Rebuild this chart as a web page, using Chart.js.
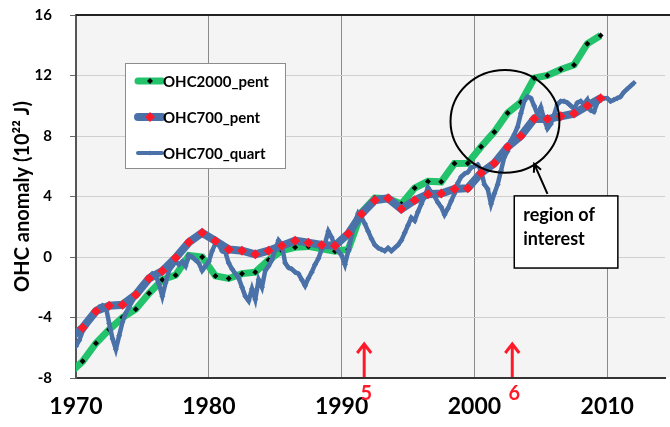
<!DOCTYPE html>
<html>
<head>
<meta charset="utf-8">
<script src="https://cdn.jsdelivr.net/npm/chart.js@4.4.1/dist/chart.umd.min.js"></script>
<style>
  html, body { margin: 0; padding: 0; background: #fff; }
  #wrap { width: 670px; height: 427px; }
</style>
</head>
<body>
<div id="wrap"><canvas id="ohcChart" width="670" height="427"></canvas></div>
<script>
// pentadal values, centred on mid-year (1969.5 .. 2009.5)
const pentYears = [1969.5, 1970.5, 1971.5, 1972.5, 1973.5, 1974.5, 1975.5, 1976.5, 1977.5, 1978.5,
  1979.5, 1980.5, 1981.5, 1982.5, 1983.5, 1984.5, 1985.5, 1986.5, 1987.5, 1988.5,
  1989.5, 1990.5, 1991.5, 1992.5, 1993.5, 1994.5, 1995.5, 1996.5, 1997.5, 1998.5,
  1999.5, 2000.5, 2001.5, 2002.5, 2003.5, 2004.5, 2005.5, 2006.5, 2007.5, 2008.5, 2009.5];
const ohc2000Pent = [-7.7, -6.9, -5.7, -4.8, -4.0, -3.45, -2.4, -1.5, -1.2, 0.1,
  0.0, -1.25, -1.42, -1.1, -1.0, -0.2, 0.42, 0.64, 0.7, 0.55,
  0.38, 0.5, 2.95, 3.9, 3.85, 3.5, 4.56, 5.0, 4.97, 6.19,
  6.2, 7.29, 8.27, 9.52, 10.23, 11.83, 12.0, 12.4, 12.7, 14.1, 14.64];
const ohc700Pent = [-5.4, -4.68, -3.58, -3.22, -3.16, -2.5, -1.42, -0.93, -0.05, 0.97,
  1.6, 1.06, 0.5, 0.42, 0.18, 0.42, 0.75, 1.08, 0.95, 0.8,
  0.75, 1.54, 2.85, 3.75, 3.88, 3.17, 3.75, 4.15, 4.2, 4.5,
  4.55, 5.56, 6.2, 7.28, 8.0, 9.14, 9.12, 9.3, 9.48, 10.0, 10.5];

// quarterly values, 1970.00 .. 2012.00, one row per year
const quartStart = 1970;
const ohc700Quart = [
  -5.9, -5.5, -4.9, -4.6,
  -4.2, -3.8, -3.5, -3.3,
  -3.2, -3.3, -4.4, -5.4,
  -6.1, -5.2, -4.3, -3.7,
  -3.3, -2.9, -2.5, -2.1,
  -1.8, -1.6, -1.3, -1.1,
  -1.2, -1.8, -2.6, -1.7,
  -0.9, -0.6, -0.3, -0.5,
  -0.3, -0.6, 0.1, 0.0,
  -0.2, -0.4, -0.9, -0.6,
  -0.3, 0.4, 0.9, 0.8,
  0.4, 0.3, -0.4, -0.8,
  -1.1, -1.4, -2.0, -2.6,
  -2.9, -2.1, -2.8, -1.5,
  -2.0, -0.9, -0.6, -0.2,
  0.5, 1.1, 0.8, -0.4,
  -0.7, -0.8, -1.0, -1.1,
  -1.5, -1.9, -1.4, -1.0,
  -0.5, -0.1, 0.5, 0.9,
  1.7, 1.3, 0.7, 0.4,
  0.1, -0.5, 0.4, 1.4,
  2.3, 2.9, 2.6, 2.2,
  1.7, 1.2, 0.8, 0.6,
  0.5, 0.4, 0.6, 0.4,
  0.6, 0.8, 1.1, 1.6,
  2.1, 2.6, 2.4, 3.0,
  3.5, 4.0, 4.6, 4.3,
  4.0, 3.6, 3.3, 2.8,
  3.2, 3.7, 4.2, 4.9,
  5.3, 5.5, 5.6, 5.9,
  6.0, 6.1, 5.7, 4.8,
  4.5, 3.5, 4.2, 4.8,
  5.7, 6.6, 7.0, 7.7,
  8.1, 8.6, 9.5, 10.3,
  10.6, 10.5, 10.0, 9.4,
  9.9, 9.1, 8.5, 8.8,
  9.4, 10.1, 10.3, 10.3,
  10.2, 10.0, 9.8, 10.2,
  10.3, 10.1, 10.4, 9.7,
  9.6, 10.2, 10.4, 10.5,
  10.5, 10.3, 10.4, 10.5,
  10.6, 10.9, 11.1, 11.3,
  11.5
];

const xTicks = [1970, 1980, 1990, 2000, 2010];
const yTicks = [-8, -4, 0, 4, 8, 12, 16];
const eventYears = [1991.7, 2002.85];
const eventLabels = ['5', '6'];

const GREEN = '#23c36c';
const BLUE = '#4a72a8';
const RED = '#ff1a2a';
const FONT = 'Lato, "DejaVu Sans", sans-serif';

const toXY = (xs, ys) => ys.map((v, i) => ({ x: xs[i], y: v }));
const quartYears = ohc700Quart.map((_, i) => quartStart + i / 4);

const legendItems = [
  { label: 'OHC2000_pent', line: GREEN, lw: 7, dot: '#000', r: 3 },
  { label: 'OHC700_pent', line: BLUE, lw: 8, dot: RED, r: 5 },
  { label: 'OHC700_quart', line: BLUE, lw: 4, dot: BLUE, r: 2.5 }
];

function diamond(ctx, cx, cy, r, color) {
  ctx.fillStyle = color;
  ctx.beginPath();
  ctx.moveTo(cx, cy - r);
  ctx.lineTo(cx + r, cy);
  ctx.lineTo(cx, cy + r);
  ctx.lineTo(cx - r, cy);
  ctx.closePath();
  ctx.fill();
}

// plot background
const backdrop = {
  id: 'backdrop',
  beforeDraw(chart) {
    const { ctx, chartArea: a } = chart;
    ctx.save();
    ctx.fillStyle = '#fff';
    ctx.fillRect(0, 0, chart.width, chart.height);
    ctx.fillStyle = '#f4f4f4';
    ctx.fillRect(a.left, a.top, chart.width - a.left, a.bottom - a.top);
    ctx.restore();
  }
};

// legend box, circle, callout and red arrows
const extras = {
  id: 'extras',
  afterDraw(chart) {
    const { ctx, chartArea: a, scales: { x, y } } = chart;
    ctx.save();

    // top frame line
    ctx.strokeStyle = '#222';
    ctx.lineWidth = 2;
    ctx.beginPath();
    ctx.moveTo(a.left, a.top);
    ctx.lineTo(chart.width, a.top);
    ctx.stroke();

    // legend
    const lx = a.left + 49, ly = a.top + 48;
    ctx.fillStyle = '#fff';
    ctx.fillRect(lx, ly, 160, 105);
    ctx.strokeStyle = '#8c8c8c';
    ctx.lineWidth = 1;
    ctx.strokeRect(lx + 0.5, ly + 0.5, 160, 105);
    ctx.font = 'bold 15px ' + FONT;
    ctx.textBaseline = 'middle';
    legendItems.forEach((it, i) => {
      const yy = ly + 18 + i * 36;
      ctx.strokeStyle = it.line;
      ctx.lineWidth = it.lw;
      ctx.lineCap = 'round';
      ctx.beginPath();
      ctx.moveTo(lx + 13, yy);
      ctx.lineTo(lx + 37, yy);
      ctx.stroke();
      diamond(ctx, lx + 25, yy, it.r, it.dot);
      ctx.fillStyle = '#000';
      ctx.fillText(it.label, lx + 38, yy + 1);
    });

    // circle around the region of interest
    const cx = x.getPixelForValue(2002.3), cy = y.getPixelForValue(8.97);
    const rx = x.getPixelForValue(2006.4) - cx;
    const ry = cy - y.getPixelForValue(12.37);
    ctx.strokeStyle = '#000';
    ctx.lineWidth = 2;
    ctx.lineCap = 'butt';
    ctx.beginPath();
    ctx.ellipse(cx, cy, rx, ry, 0, 0, Math.PI * 2);
    ctx.stroke();

    // callout arrow
    const tx = x.getPixelForValue(2005.5), ty = y.getPixelForValue(4.17);
    const hx = x.getPixelForValue(2004.5), hy = y.getPixelForValue(6.16);
    ctx.beginPath();
    ctx.moveTo(tx, ty);
    ctx.lineTo(hx, hy);
    const ang = Math.atan2(hy - ty, hx - tx);
    ctx.moveTo(hx - 9 * Math.cos(ang - 0.45), hy - 9 * Math.sin(ang - 0.45));
    ctx.lineTo(hx, hy);
    ctx.lineTo(hx - 9 * Math.cos(ang + 0.45), hy - 9 * Math.sin(ang + 0.45));
    ctx.stroke();

    // callout box
    const bx0 = x.getPixelForValue(2003.0), bx1 = x.getPixelForValue(2010.8);
    const by0 = y.getPixelForValue(4.04), by1 = y.getPixelForValue(-0.73);
    ctx.fillStyle = '#fff';
    ctx.fillRect(bx0, by0, bx1 - bx0, by1 - by0);
    ctx.strokeStyle = '#000';
    ctx.lineWidth = 1.5;
    ctx.strokeRect(bx0, by0, bx1 - bx0, by1 - by0);
    ctx.fillStyle = '#000';
    ctx.font = 'bold 18px ' + FONT;
    ctx.textAlign = 'left';
    ctx.fillText('region of', bx0 + 9, by0 + 19);
    ctx.fillText('interest', bx0 + 9, by0 + 43);

    // red event arrows
    ctx.strokeStyle = RED;
    ctx.fillStyle = RED;
    ctx.lineWidth = 3;
    ctx.font = 'bold 20px ' + FONT;
    ctx.textAlign = 'center';
    eventYears.forEach((yr, i) => {
      const px = x.getPixelForValue(yr);
      const top = y.getPixelForValue(-5.75);
      ctx.beginPath();
      ctx.moveTo(px, a.bottom - 1);
      ctx.lineTo(px, top);
      ctx.moveTo(px - 7, top + 9);
      ctx.lineTo(px, top);
      ctx.lineTo(px + 7, top + 9);
      ctx.stroke();
      ctx.fillText(eventLabels[i], px + 2, a.bottom + 16);
    });
    ctx.restore();
  }
};

new Chart(document.getElementById('ohcChart'), {
  type: 'scatter',
  data: {
    datasets: [
      {
        label: 'OHC700_pent',
        data: toXY(pentYears, ohc700Pent),
        showLine: true,
        borderColor: BLUE,
        borderWidth: 8,
        pointStyle: 'rectRot',
        pointRadius: 5,
        pointBackgroundColor: RED,
        pointBorderWidth: 0,
        order: 0
      },
      {
        label: 'OHC700_quart',
        data: toXY(quartYears, ohc700Quart),
        showLine: true,
        borderColor: BLUE,
        borderWidth: 4.5,
        pointStyle: 'rectRot',
        pointRadius: 3,
        pointBackgroundColor: BLUE,
        pointBorderWidth: 0,
        order: 1
      },
      {
        label: 'OHC2000_pent',
        data: toXY(pentYears, ohc2000Pent),
        showLine: true,
        borderColor: GREEN,
        borderWidth: 7,
        pointStyle: 'rectRot',
        pointRadius: 3,
        pointBackgroundColor: '#000',
        pointBorderWidth: 0,
        order: 2
      }
    ]
  },
  options: {
    responsive: false,
    animation: false,
    layout: { padding: { top: 15, right: 0, left: 0, bottom: 0 } },
    plugins: {
      legend: { display: false },
      tooltip: { enabled: false }
    },
    scales: {
      x: {
        type: 'linear',
        min: 1970,
        max: 2014.35,
        afterBuildTicks: s => { s.ticks = xTicks.map(v => ({ value: v })); },
        afterFit: s => { s.height = 49; s.paddingLeft = 0; s.paddingRight = 0; },
        ticks: {
          color: '#000',
          padding: 15,
          font: { family: FONT, weight: 'bold', size: 23 },
          callback: v => String(v)
        },
        grid: { color: '#8a8a8a', lineWidth: 1, drawTicks: false },
        border: { color: '#333', width: 2 }
      },
      y: {
        min: -8,
        max: 16,
        afterBuildTicks: s => { s.ticks = yTicks.map(v => ({ value: v })); },
        afterFit: s => { s.width = 76; s.paddingTop = 0; s.paddingBottom = 0; },
        ticks: {
          color: '#000',
          padding: 18,
          font: { family: FONT, weight: 'bold', size: 15 }
        },
        grid: { color: '#cfcfcf', lineWidth: 1, tickColor: '#666', tickLength: 6 },
        border: { color: '#555', width: 2 },
        title: {
          display: true,
          text: 'OHC anomaly (10²² J)',
          color: '#000',
          font: { family: FONT, weight: 'bold', size: 20 },
          padding: { top: 11, bottom: 0 }
        }
      }
    }
  },
  plugins: [backdrop, extras]
});
</script>
</body>
</html>
